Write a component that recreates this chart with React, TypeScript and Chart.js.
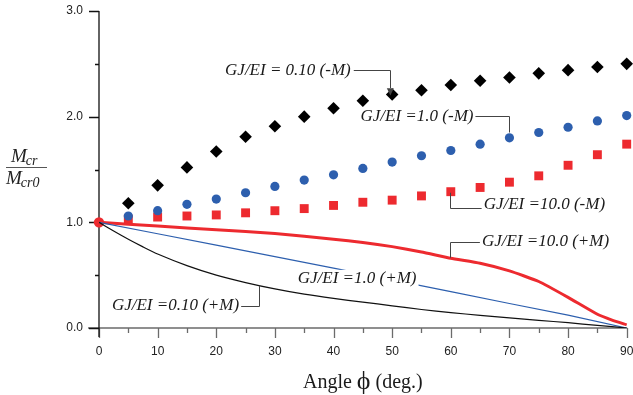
import React, { useEffect, useRef } from 'react';
import { Chart, registerables } from 'chart.js';

Chart.register(...registerables);

// ---- data ----
const MARK_ANGLES = [5, 10, 15, 20, 25, 30, 35, 40, 45, 50, 55, 60, 65, 70, 75, 80, 85, 90];
const NEG_M_010 = [1.18, 1.35, 1.52, 1.67, 1.81, 1.91, 2.0, 2.08, 2.15, 2.21, 2.25, 2.3, 2.34, 2.37, 2.41, 2.44, 2.47, 2.5];
const NEG_M_1 = [1.06, 1.11, 1.17, 1.22, 1.28, 1.34, 1.4, 1.45, 1.51, 1.57, 1.63, 1.68, 1.74, 1.8, 1.85, 1.9, 1.96, 2.01];
const NEG_M_10 = [1.03, 1.05, 1.06, 1.07, 1.09, 1.11, 1.13, 1.16, 1.19, 1.21, 1.25, 1.29, 1.33, 1.38, 1.44, 1.54, 1.64, 1.74];

const POS_010_ANGLES = [0, 2.5, 5, 7.5, 10, 15, 20, 25, 30, 35, 40, 45, 50, 55, 60, 65, 70, 75, 80, 85, 90];
const POS_M_010 = [1.0, 0.918, 0.84, 0.768, 0.7, 0.59, 0.5, 0.43, 0.37, 0.32, 0.28, 0.245, 0.21, 0.175, 0.145, 0.12, 0.095, 0.073, 0.05, 0.025, 0.0];

const POS_1_ANGLES = [0, 10, 20, 30, 40, 50, 60, 70, 80, 90];
const POS_M_1 = [1.0, 0.892, 0.784, 0.676, 0.566, 0.456, 0.344, 0.232, 0.122, 0.0];

const POS_10_ANGLES = [0, 10, 20, 30, 40, 45, 50, 55, 60, 65, 70, 75, 80, 85, 87.5, 90];
const POS_M_10 = [1.0, 0.965, 0.93, 0.895, 0.84, 0.81, 0.77, 0.72, 0.66, 0.612, 0.54, 0.44, 0.29, 0.13, 0.075, 0.03];

const ORIGIN_POINT = [{ x: 0, y: 1.0 }];

const X_MAJOR = [0, 10, 20, 30, 40, 50, 60, 70, 80, 90];
const Y_MAJOR = [0, 1, 2, 3];

const LABELS = [
  'GJ/EI = 0.10 (-M)',
  'GJ/EI =1.0 (-M)',
  'GJ/EI =10.0 (-M)',
  'GJ/EI =10.0 (+M)',
  'GJ/EI =1.0 (+M)',
  'GJ/EI =0.10 (+M)',
];

const zip = (xs: number[], ys: number[]) => xs.map((x, i) => ({ x, y: ys[i] }));

const RED = '#ed2a2f';
const BLUE = '#2d5fae';
const SERIF = "'Liberation Serif', 'Times New Roman', serif";
const SANS = "'Liberation Sans', Arial, sans-serif";

const decorPlugin = {
  id: 'decor',
  beforeDatasetsDraw(chart: any) {
    const { ctx, scales } = chart;
    const xs = scales.x;
    const ys = scales.y;
    const x0 = xs.getPixelForValue(0);
    const x90 = xs.getPixelForValue(90);
    const yb = ys.getPixelForValue(0);
    const yt = ys.getPixelForValue(3);
    ctx.save();
    // x axis line + ticks (gray)
    ctx.strokeStyle = '#6b6b6b';
    ctx.lineWidth = 1.3;
    ctx.beginPath();
    ctx.moveTo(x0 - 11, yb);
    ctx.lineTo(x90 + 0.5, yb);
    for (let a = 0; a <= 90; a += 5) {
      const px = Math.round(xs.getPixelForValue(a)) + 0.5;
      const len = a % 10 === 0 ? 10 : 5;
      ctx.moveTo(px, yb);
      ctx.lineTo(px, yb + len);
    }
    ctx.stroke();
    // y axis line + ticks (black)
    ctx.strokeStyle = '#111';
    ctx.lineWidth = 1.3;
    ctx.beginPath();
    ctx.moveTo(x0, yt);
    ctx.lineTo(x0, yb + 9);
    for (let v = 0; v <= 3.001; v += 0.5) {
      const py = Math.round(ys.getPixelForValue(v)) + 0.5;
      const len = Math.abs(v - Math.round(v)) < 1e-6 ? 10 : 4;
      ctx.moveTo(x0 - len, py);
      ctx.lineTo(x0, py);
    }
    ctx.stroke();
    ctx.restore();
  },
  afterDatasetsDraw(chart: any) {
    const { ctx, scales } = chart;
    const xs = scales.x;
    const ys = scales.y;
    const X = (v: number) => xs.getPixelForValue(v);
    const Y = (v: number) => ys.getPixelForValue(v);
    ctx.save();
    ctx.font = `italic 17px ${SERIF}`;
    ctx.textBaseline = 'middle';
    ctx.textAlign = 'left';

    const label = (t: string, ax: number, ay: number, bg: boolean) => {
      const px = X(ax);
      const py = Y(ay);
      const w = ctx.measureText(t).width;
      if (bg) {
        ctx.fillStyle = '#fff';
        ctx.fillRect(px - 2, py - 9, w + 4, 18);
      }
      ctx.fillStyle = '#1a1a1a';
      ctx.fillText(t, px, py);
      return { px, py, w };
    };

    ctx.strokeStyle = '#444';
    ctx.lineWidth = 1;

    // 1: 0.10 (-M)
    const l1 = label(LABELS[0], 21.5, 2.44, false);
    ctx.beginPath();
    ctx.moveTo(l1.px + l1.w + 3, Math.round(l1.py) + 0.5);
    ctx.lineTo(Math.round(X(49.6)) + 0.5, Math.round(l1.py) + 0.5);
    ctx.lineTo(Math.round(X(49.6)) + 0.5, Y(2.27));
    ctx.stroke();
    ctx.fillStyle = '#444';
    ctx.beginPath();
    ctx.moveTo(X(49.6) - 3, Y(2.27));
    ctx.lineTo(X(49.6) + 4, Y(2.27));
    ctx.lineTo(X(49.6) + 0.5, Y(2.2));
    ctx.closePath();
    ctx.fill();

    // 2: 1.0 (-M)
    const l2 = label(LABELS[1], 44.6, 2.005, false);
    ctx.beginPath();
    ctx.moveTo(l2.px + l2.w + 2, Math.round(l2.py) + 0.5);
    ctx.lineTo(Math.round(X(70)) + 0.5, Math.round(l2.py) + 0.5);
    ctx.lineTo(Math.round(X(70)) + 0.5, Y(1.85));
    ctx.stroke();

    // 3: 10.0 (-M)
    const l3 = label(LABELS[2], 65.6, 1.165, false);
    ctx.beginPath();
    ctx.moveTo(Math.round(X(59.9)) + 0.5, Y(1.28));
    ctx.lineTo(Math.round(X(59.9)) + 0.5, Math.round(l3.py + 3) + 0.5);
    ctx.lineTo(l3.px - 2, Math.round(l3.py + 3) + 0.5);
    ctx.stroke();

    // 4: 10.0 (+M)
    const l4 = label(LABELS[3], 65.3, 0.815, false);
    ctx.beginPath();
    ctx.moveTo(Math.round(X(59.9)) + 0.5, Y(0.665));
    ctx.lineTo(Math.round(X(59.9)) + 0.5, Math.round(l4.py) + 0.5);
    ctx.lineTo(l4.px - 2, Math.round(l4.py) + 0.5);
    ctx.stroke();

    // 5: 1.0 (+M)
    label(LABELS[4], 33.9, 0.465, true);

    // 6: 0.10 (+M)
    const l6 = label(LABELS[5], 2.2, 0.21, false);
    ctx.beginPath();
    ctx.moveTo(l6.px + l6.w + 2, Math.round(l6.py) + 0.5);
    ctx.lineTo(Math.round(X(27.3)) + 0.5, Math.round(l6.py) + 0.5);
    ctx.lineTo(Math.round(X(27.3)) + 0.5, Y(0.4));
    ctx.stroke();

    ctx.restore();
  },
  afterDraw(chart: any) {
    const { ctx, chartArea } = chart;
    ctx.save();
    // y axis title: fraction M_cr / M_cr0
    ctx.fillStyle = '#222';
    ctx.textBaseline = 'alphabetic';
    ctx.textAlign = 'left';
    ctx.font = `italic 19px ${SERIF}`;
    ctx.fillText('M', 11, 162);
    const mw = ctx.measureText('M').width;
    ctx.font = `italic 14px ${SERIF}`;
    ctx.fillText('cr', 10 + mw, 165);
    ctx.strokeStyle = '#555';
    ctx.lineWidth = 1.2;
    ctx.beginPath();
    ctx.moveTo(6, 167.5);
    ctx.lineTo(47, 167.5);
    ctx.stroke();
    ctx.font = `italic 19px ${SERIF}`;
    ctx.fillText('M', 6, 184);
    ctx.font = `italic 14px ${SERIF}`;
    ctx.fillText('cr0', 5 + mw, 187);

    // x axis title: Angle ϕ (deg.)
    const p1 = 'Angle ';
    const p2 = 'ϕ';
    const p3 = ' (deg.)';
    ctx.font = `20px ${SERIF}`;
    const w1 = ctx.measureText(p1).width;
    const w3 = ctx.measureText(p3).width;
    ctx.font = `26px ${SERIF}`;
    const w2 = ctx.measureText(p2).width;
    const cx = (chartArea.left + chartArea.right) / 2;
    let x = cx - (w1 + w2 + w3) / 2;
    const base = 388;
    ctx.fillStyle = '#1a1a1a';
    ctx.font = `20px ${SERIF}`;
    ctx.fillText(p1, x, base);
    x += w1;
    ctx.font = `26px ${SERIF}`;
    ctx.fillText(p2, x, base + 1);
    x += w2;
    ctx.font = `20px ${SERIF}`;
    ctx.fillText(p3, x, base);
    ctx.restore();
  },
};

const noPad = (s: any) => {
  s.paddingLeft = 0;
  s.paddingRight = 0;
  s.paddingTop = 0;
  s.paddingBottom = 0;
};

export default function App() {
  const ref = useRef<HTMLCanvasElement | null>(null);

  useEffect(() => {
    document.body.style.margin = '0';
    const canvas = ref.current;
    if (!canvas) return;
    const chart = new Chart(canvas, {
      type: 'line',
      data: {
        datasets: [
          {
            label: 'GJ/EI=0.10 (+M)',
            data: zip(POS_010_ANGLES, POS_M_010),
            borderColor: '#111',
            borderWidth: 1.2,
            pointRadius: 0,
            tension: 0.2,
            fill: false,
          },
          {
            label: 'GJ/EI=1.0 (+M)',
            data: zip(POS_1_ANGLES, POS_M_1),
            borderColor: BLUE,
            borderWidth: 1.2,
            pointRadius: 0,
            tension: 0,
            fill: false,
          },
          {
            label: 'GJ/EI=10.0 (+M)',
            data: zip(POS_10_ANGLES, POS_M_10),
            borderColor: RED,
            borderWidth: 3,
            pointRadius: 0,
            tension: 0.15,
            fill: false,
            clip: false as any,
          },
          {
            label: 'GJ/EI=0.10 (-M)',
            data: zip(MARK_ANGLES, NEG_M_010),
            showLine: false,
            pointStyle: 'rectRot',
            pointRadius: 6.3,
            backgroundColor: '#000',
            borderColor: '#000',
            borderWidth: 0,
            clip: false as any,
          },
          {
            label: 'GJ/EI=1.0 (-M)',
            data: zip(MARK_ANGLES, NEG_M_1),
            showLine: false,
            pointStyle: 'circle',
            pointRadius: 4.6,
            backgroundColor: BLUE,
            borderColor: BLUE,
            borderWidth: 0,
            clip: false as any,
          },
          {
            label: 'GJ/EI=10.0 (-M)',
            data: zip(MARK_ANGLES, NEG_M_10),
            showLine: false,
            pointStyle: 'rect',
            pointRadius: 6.3,
            backgroundColor: RED,
            borderColor: RED,
            borderWidth: 0,
            clip: false as any,
          },
          {
            label: 'origin',
            data: ORIGIN_POINT,
            showLine: false,
            pointStyle: 'circle',
            pointRadius: 5.2,
            backgroundColor: RED,
            borderColor: RED,
            borderWidth: 0,
            clip: false as any,
          },
        ],
      },
      options: {
        responsive: false,
        animation: false,
        events: [],
        layout: { padding: { top: 11, right: 6, left: 0, bottom: 0 } },
        plugins: {
          legend: { display: false },
          tooltip: { enabled: false },
          title: { display: false },
        },
        scales: {
          x: {
            type: 'linear',
            min: 0,
            max: 90,
            afterFit: (s: any) => { s.height = 67; noPad(s); },
            afterBuildTicks: (s: any) => { s.ticks = X_MAJOR.map((v) => ({ value: v })); },
            grid: { display: false, drawTicks: false, tickLength: 0 },
            border: { display: false },
            ticks: {
              autoSkip: false,
              maxRotation: 0,
              padding: 16,
              color: '#222',
              font: { family: SANS, size: 12 },
              callback: (v: any) => String(v),
            },
          },
          y: {
            type: 'linear',
            min: 0,
            max: 3,
            afterFit: (s: any) => { s.width = 99; noPad(s); },
            afterBuildTicks: (s: any) => { s.ticks = Y_MAJOR.map((v) => ({ value: v })); },
            grid: { display: false, drawTicks: false, tickLength: 0 },
            border: { display: false },
            ticks: {
              autoSkip: false,
              padding: 16,
              color: '#222',
              font: { family: SANS, size: 12 },
              callback: (v: any) => Number(v).toFixed(1),
            },
          },
        },
      },
      plugins: [decorPlugin],
    } as any);
    return () => chart.destroy();
  }, []);

  return (
    <div style={{ width: 633, height: 395, background: '#fff' }}>
      <canvas ref={ref} width={633} height={395} style={{ display: 'block', width: 633, height: 395 }} />
    </div>
  );
}
